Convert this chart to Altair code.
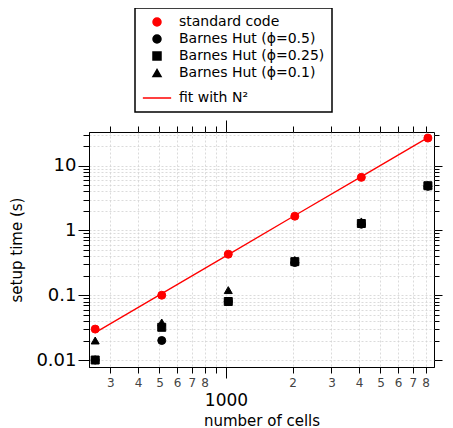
import altair as alt
import pandas as pd

# ---- data ----
cells = [256, 512, 1024, 2048, 4096, 8192]
standard_code = [0.030, 0.100, 0.43, 1.66, 6.6, 26.7]
bh_05 = [0.010, 0.020, 0.080, 0.32, 1.25, 4.8]
bh_025 = [0.010, 0.032, 0.080, 0.33, 1.28, 4.9]
bh_01 = [0.020, 0.038, 0.120, 0.35, 1.38, 5.05]
fit_n2 = [0.0265, 0.106, 0.424, 1.70, 6.78, 27.1]

series_names = ["standard code", "Barnes Hut (ϕ=0.5)", "Barnes Hut (ϕ=0.25)",
                "Barnes Hut (ϕ=0.1)", "fit with N²"]
series_colors = ["#ff0000", "#000000", "#000000", "#000000", "#ff0000"]
series_shapes = ["circle", "circle", "square", "triangle-up", "stroke"]
series_sizes = [64, 64, 64, 64, 800]

x_ticks = [300, 400, 500, 600, 700, 800, 900, 1000,
           2000, 3000, 4000, 5000, 6000, 7000, 8000]
y_ticks = [0.01, 0.02, 0.03, 0.04, 0.05, 0.06, 0.07, 0.08, 0.09,
           0.1, 0.2, 0.3, 0.4, 0.5, 0.6, 0.7, 0.8, 0.9,
           1, 2, 3, 4, 5, 6, 7, 8, 9, 10, 20, 30]
x_domain = [240, 8730]
y_domain = [0.0078, 33.1]

# ---- tables ----
rows = []
for name, vals in zip(series_names[:4], [standard_code, bh_05, bh_025, bh_01]):
    for n, v in zip(cells, vals):
        rows.append({"cells": n, "time": v, "series": name})
points_df = pd.DataFrame(rows)
fit_df = pd.DataFrame({"cells": cells, "time": fit_n2})

FONT = "DejaVu Sans"
x_major = "datum.value == 1000"
y_major = "datum.value == 0.01 || datum.value == 0.1 || datum.value == 1 || datum.value == 10"

x_scale = alt.Scale(type="log", domain=x_domain, nice=False)
y_scale = alt.Scale(type="log", domain=y_domain, nice=False)

x_axis_main = alt.Axis(
    orient="bottom", values=x_ticks, title="number of cells",
    labelExpr="datum.value == 1000 ? '1000' : (datum.value == 900 ? '' : slice(datum.label, 0, 1))",
    labelFontSize={"condition": {"test": x_major, "value": 17}, "value": 12},
    labelPadding={"condition": {"test": x_major, "value": 14}, "value": 4},
    labelColor={"condition": {"test": x_major, "value": "#000000"}, "value": "#444444"},
    tickSize={"condition": {"test": x_major, "value": 11}, "value": 6},
    labelOverlap=False, labelFlush=False, labelBound=False,
    grid=True, gridColor="#d2d2d2", gridDash=[2, 2], gridWidth=0.8,
    titleFontSize=15, titlePadding=5,
)
y_axis_main = alt.Axis(
    orient="left", values=y_ticks, title="setup time (s)",
    labelExpr="datum.value == 0.01 ? '0.01' : datum.value == 0.1 ? '0.1' : datum.value == 1 ? '1' : datum.value == 10 ? '10' : ''",
    tickSize={"condition": {"test": y_major, "value": 11}, "value": 6},
    labelFontSize=18, labelPadding=2, labelColor="#000000",
    labelOverlap=False, labelFlush=False, labelBound=False,
    grid=True, gridColor="#d2d2d2", gridDash=[2, 2], gridWidth=0.8,
    titleFontSize=15, titlePadding=11,
)
x_axis_top = alt.Axis(
    orient="top", values=x_ticks, labels=False, title=None, domain=False, grid=False,
    tickSize={"condition": {"test": x_major, "value": 12}, "value": 6},
)
y_axis_right = alt.Axis(
    orient="right", values=y_ticks, labels=False, title=None, domain=False, grid=False,
    tickSize={"condition": {"test": y_major, "value": 8}, "value": 5},
)

legend = alt.Legend(
    title=None, orient="none", legendX=46, legendY=-124,
    padding=7, labelFontSize=14, labelColor="#000000", labelFont=FONT,
    rowPadding=3, labelOffset=7, symbolStrokeWidth=1.5,
)

fit_line = alt.Chart(fit_df).mark_line(color="#ff0000", strokeWidth=1.3).encode(
    x=alt.X("cells:Q", scale=x_scale, axis=x_axis_main),
    y=alt.Y("time:Q", scale=y_scale, axis=y_axis_main),
)

points = alt.Chart(points_df).mark_point(filled=True, opacity=1, strokeWidth=1).encode(
    x=alt.X("cells:Q", scale=x_scale, axis=x_axis_top),
    y=alt.Y("time:Q", scale=y_scale, axis=y_axis_right),
    fill=alt.Fill("series:N", scale=alt.Scale(domain=series_names, range=series_colors), legend=legend),
    stroke=alt.Stroke("series:N", scale=alt.Scale(domain=series_names, range=series_colors), legend=legend),
    shape=alt.Shape("series:N", scale=alt.Scale(domain=series_names, range=series_shapes), legend=legend),
    size=alt.Size("series:N", scale=alt.Scale(type="ordinal", domain=series_names, range=series_sizes), legend=legend),
)

chart = alt.layer(fit_line, points).resolve_axis(
    x="independent", y="independent"
).properties(
    width=345, height=235,
    autosize=alt.AutoSizeParams(type="none"),
    padding={"left": 81, "top": 124, "right": 11, "bottom": 61},
    background="white",
).configure_view(
    stroke="#000000", strokeWidth=1
).configure_axis(
    domainColor="#000000", tickColor="#000000", labelFont=FONT, titleFont=FONT,
    titleFontWeight="normal", titleColor="#000000",
).configure_legend(labelFont=FONT, strokeColor="#000000", strokeWidth=1.5)

chart.save("out.html", embed_options={"renderer": "svg", "actions": False})
